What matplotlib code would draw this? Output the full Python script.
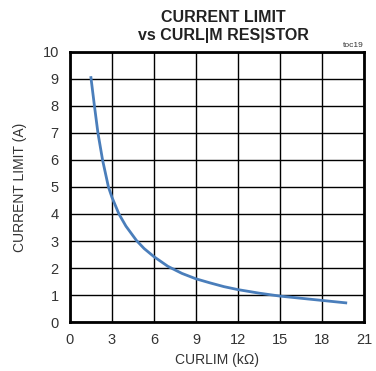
import numpy as np
import matplotlib.pyplot as plt

plt.rcParams['font.family'] = ['Liberation Sans', 'DejaVu Sans']

# values
r_curlim = [1.5, 1.75, 2.0, 2.33, 2.75, 3.0, 3.5, 4.0, 4.75, 5.3, 6.0, 7.0, 8.0, 9.0, 10.0, 11.0, 12.0, 13.5, 15.0, 16.5, 18.0, 19.7]
i_limit = [9.05, 8.0, 7.0, 6.0, 5.0, 4.62, 4.0, 3.55, 3.02, 2.72, 2.42, 2.06, 1.8, 1.6, 1.45, 1.31, 1.2, 1.07, 0.96, 0.88, 0.8, 0.71]

xticks = [0, 3, 6, 9, 12, 15, 18, 21]
yticks = list(range(0, 11))

fig = plt.figure(figsize=(3.76, 3.71), dpi=100)
ax = fig.add_axes([0.186, 0.132, 0.782, 0.728])

ax.plot(r_curlim, i_limit, color='#4a7ebb', linewidth=2.0, solid_joinstyle='round')

ax.set_xlim(0, 21)
ax.set_ylim(0, 10)
ax.set_xticks(xticks)
ax.set_yticks(yticks)
ax.grid(True, color='black', linewidth=1.0)
ax.set_axisbelow(True)
for s in ax.spines.values():
    s.set_linewidth(2.0)
ax.tick_params(length=0, labelsize=10.5, pad=8, colors='#333333')

ax.set_xlabel('CURLIM (k\u03a9)', fontsize=10, color='#333333', labelpad=4)
ax.set_ylabel('CURRENT LIMIT (A)', fontsize=10, color='#333333', labelpad=11)

fig.text(0.593, 0.972, 'CURRENT LIMIT\nvs CURL|M RES|STOR', ha='center', va='top',
         fontsize=11.5, fontweight='bold', color='#222222', linespacing=1.2)
fig.text(0.968, 0.867, 'toc19', ha='right', va='bottom', fontsize=6, color='#333333')

fig.savefig('out.png', dpi=100)
